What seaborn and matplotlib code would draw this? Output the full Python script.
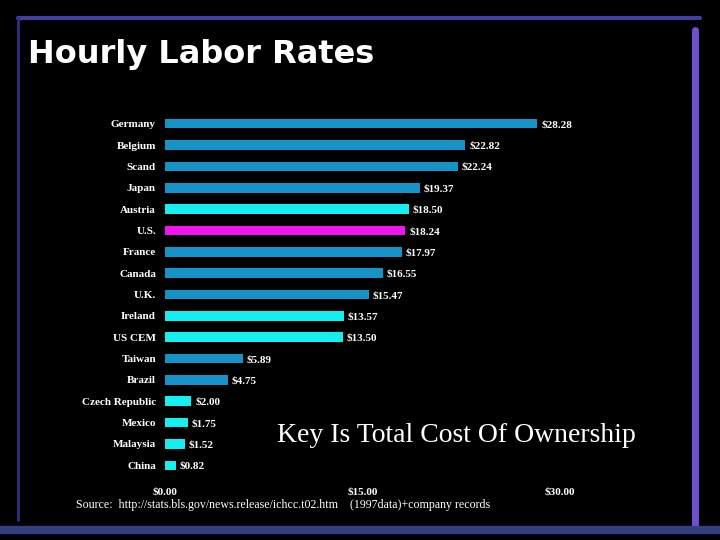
import matplotlib
matplotlib.use("Agg")
import matplotlib.pyplot as plt
import seaborn as sns
import pandas as pd

countries = ["Germany", "Belgium", "Scand", "Japan", "Austria", "U.S.", "France", "Canada",
             "U.K.", "Ireland", "US CEM", "Taiwan", "Brazil", "Czech Republic", "Mexico",
             "Malaysia", "China"]
rates = [28.28, 22.82, 22.24, 19.37, 18.50, 18.24, 17.97, 16.55, 15.47, 13.57, 13.50,
         5.89, 4.75, 2.00, 1.75, 1.52, 0.82]
groups = ["b", "b", "b", "b", "c", "m", "b", "b", "b", "c", "c", "b", "b", "c", "c", "c", "c"]
tick_vals = [0, 15, 30]
tick_labels = ["$0.00", "$15.00", "$30.00"]

pal = {"b": "#1593c6", "c": "#14f0f0", "m": "#f014f0"}
df = pd.DataFrame({"country": countries, "rate": rates, "g": groups})

sns.set_style("dark")
fig = plt.figure(figsize=(7.2, 5.4), dpi=100, facecolor="black")

# slide decorations
deco = fig.add_axes([0, 0, 1, 1], facecolor="none")
deco.set_xlim(0, 720); deco.set_ylim(540, 0); deco.axis("off")
deco.plot([18, 700], [18, 18], color="#4040a0", lw=3)
deco.plot([18, 18], [18, 520], color="#303080", lw=2)
deco.plot([695, 695], [30, 530], color="#7050d0", lw=5)
deco.plot([0, 720], [530, 530], color="#304080", lw=6)
deco.text(28, 54, "Hourly Labor Rates", color="white", fontsize=23, fontweight="bold",
          va="center", family="DejaVu Sans")

ax = fig.add_axes([165 / 720, 1 - 476 / 540, 395 / 720, 363 / 540], facecolor="black")
sns.barplot(data=df, y="country", x="rate", hue="g", palette=pal, dodge=False,
            legend=False, ax=ax, width=0.45, orient="h", saturation=1, linewidth=0)
ax.set_xlim(0, 30)
ax.set_xticks(tick_vals)
ax.set_xticklabels(tick_labels, family="Liberation Serif", fontsize=8, color="white", fontweight="bold")
ax.tick_params(axis="y", colors="white", length=3, labelsize=8)
for lab in ax.get_yticklabels():
    lab.set_family("Liberation Serif"); lab.set_fontweight("bold")
ax.tick_params(axis="x", length=0, pad=8)
ax.set_xlabel(""); ax.set_ylabel("")
ax.grid(False)
for s in ax.spines.values():
    s.set_visible(False)
for i, v in enumerate(rates):
    ax.text(v + 0.3, i + 0.05, f"${v:.2f}", color="white", fontsize=8, va="center",
            family="Liberation Serif", fontweight="bold")
ax.text(8.5, 14.6, "Key Is Total Cost Of Ownership", color="white", fontsize=20,
        family="Liberation Serif", va="center")

fig.text(76 / 720, 1 - 505 / 540, "Source:  http://stats.bls.gov/news.release/ichcc.t02.htm    (1997data)+company records",
         color="white", fontsize=8.6, family="Liberation Serif", va="center")

fig.savefig("out.png", dpi=100, facecolor="black")
